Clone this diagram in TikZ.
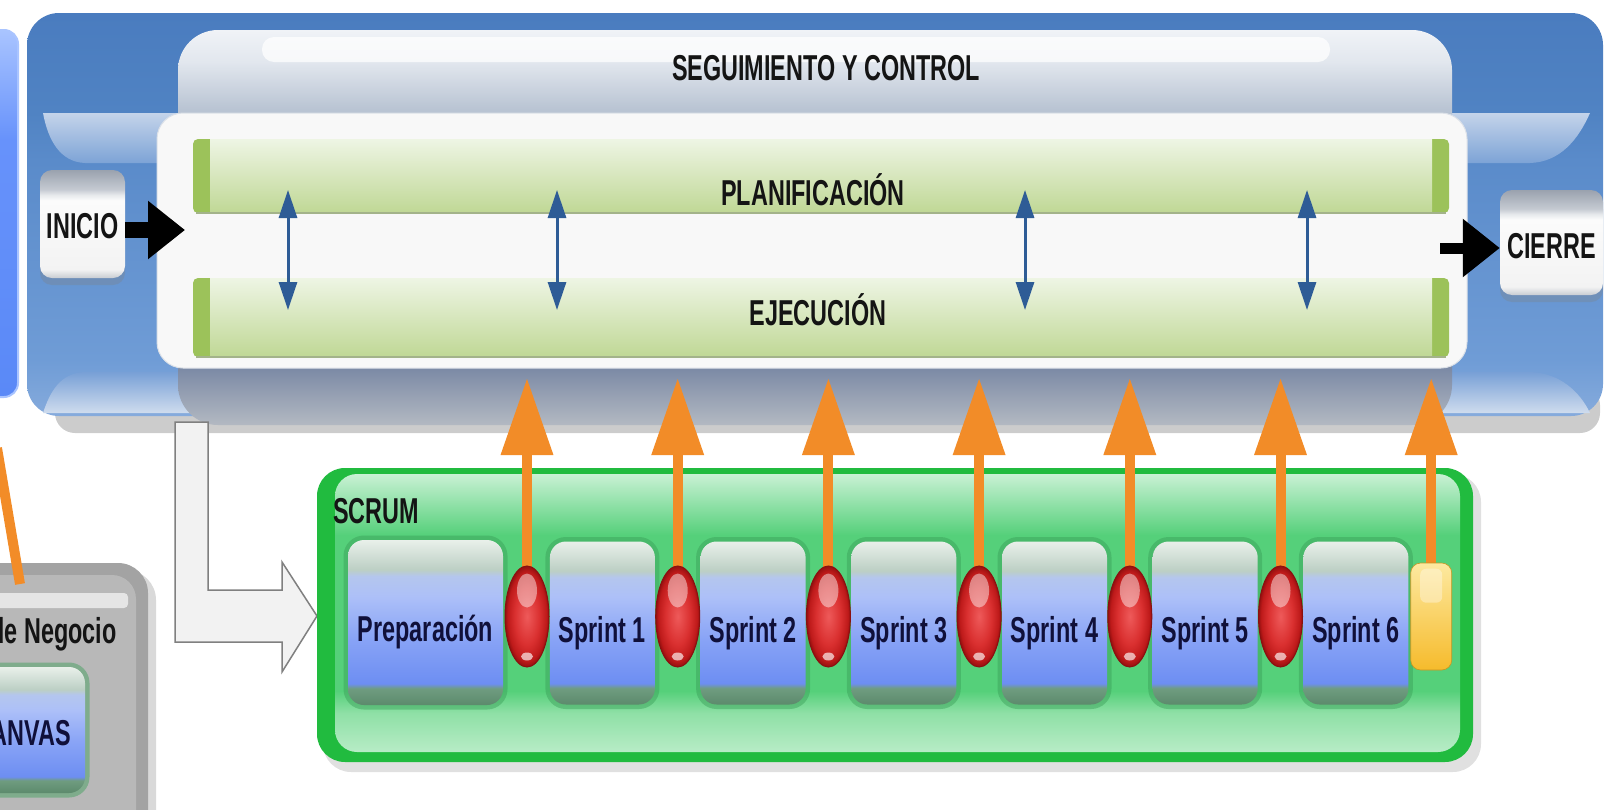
\documentclass[tikz,border=0pt]{standalone}
\usepackage{fontspec}
\newfontfamily\nar[FakeStretch=0.65]{Liberation Sans}
\usetikzlibrary{arrows.meta,shapes.geometric,shadows}

\definecolor{c0}{HTML}{4A7CBF}
\definecolor{c1}{HTML}{5083C3}
\definecolor{c2}{HTML}{5A8BCA}
\definecolor{c3}{HTML}{6F9CD6}
\definecolor{c4}{HTML}{86ABDC}
\pgfdeclareverticalshading{contshade}{100bp}{color(0bp)=(c4); color(25bp)=(c4); color(32bp)=(c3); color(56.7bp)=(c2); color(62.6bp)=(c1); color(75bp)=(c0); color(100bp)=(c0)}

\definecolor{g0}{HTML}{F0F3F7}
\definecolor{g1}{HTML}{E2E7EE}
\definecolor{g2}{HTML}{B9C4D3}
\definecolor{g3}{HTML}{7D8BA6}
\definecolor{g4}{HTML}{B3B9C2}
\pgfdeclareverticalshading{grayshade}{100bp}{color(0bp)=(g4); color(25bp)=(g4); color(32bp)=(g3); color(65bp)=(g2); color(71bp)=(g1); color(75bp)=(g0); color(100bp)=(g0)}

\definecolor{lb0}{HTML}{A9C4FF}
\definecolor{lb1}{HTML}{6792FB}
\definecolor{lb2}{HTML}{5A89F7}
\pgfdeclareverticalshading{leftblue}{100bp}{color(0bp)=(lb2); color(25bp)=(lb2); color(60bp)=(lb1); color(75bp)=(lb0); color(100bp)=(lb0)}

\definecolor{sb0}{HTML}{5C8A6C}
\definecolor{sb1}{HTML}{6F9C80}
\definecolor{sb2}{HTML}{6D8EF2}
\definecolor{sb3}{HTML}{88A3F6}
\definecolor{sb4}{HTML}{ADC0F8}
\definecolor{sb5}{HTML}{B4C6EE}
\definecolor{sb6}{HTML}{BCCFC4}
\definecolor{sb7}{HTML}{E9F0EA}
\pgfdeclareverticalshading{sprintshade}{100bp}{color(0bp)=(sb0); color(25bp)=(sb0); color(30bp)=(sb1); color(31.5bp)=(sb2); color(45bp)=(sb3); color(58bp)=(sb4); color(64bp)=(sb5); color(66bp)=(sb6); color(75bp)=(sb7); color(100bp)=(sb7)}

\definecolor{wb0}{HTML}{9AA2AE}
\definecolor{wb1}{HTML}{C5CAD2}
\definecolor{wb2}{HTML}{E6E9EC}
\definecolor{wb3}{HTML}{FBFBFB}
\definecolor{wb4}{HTML}{F3F3F3}
\definecolor{wb5}{HTML}{C8CCD2}
\pgfdeclareverticalshading{wboxshade}{100bp}{color(0bp)=(wb5); color(25bp)=(wb5); color(29bp)=(wb4); color(61bp)=(wb3); color(63.5bp)=(wb2); color(66bp)=(wb1); color(75bp)=(wb0); color(100bp)=(wb0)}

\definecolor{gi0}{HTML}{C9F1D4}
\definecolor{gi1}{HTML}{55D07A}
\definecolor{gi2}{HTML}{8FE0A6}
\definecolor{gi3}{HTML}{B7ECC6}
\pgfdeclareverticalshading{greeninner}{100bp}{color(0bp)=(gi3); color(25bp)=(gi3); color(32bp)=(gi2); color(36bp)=(gi1); color(64bp)=(gi1); color(75bp)=(gi0); color(100bp)=(gi0)}

\definecolor{rg0}{HTML}{EE5A5A}
\definecolor{rg1}{HTML}{DA3030}
\definecolor{rg2}{HTML}{BE1A1A}
\definecolor{rg3}{HTML}{951010}
\pgfdeclareradialshading{redglass}{\pgfpoint{0bp}{0bp}}{color(0bp)=(rg0); color(14bp)=(rg1); color(22bp)=(rg2); color(25bp)=(rg3); color(50bp)=(rg3)}

\definecolor{wingA}{HTML}{C4D4EA}
\definecolor{wingB}{HTML}{7DA3D6}
\definecolor{wingC}{HTML}{78A0D6}
\definecolor{wingD}{HTML}{CFDCEE}
\definecolor{panel}{HTML}{F8F8F8}
\definecolor{panelrim}{HTML}{DCE1E8}
\definecolor{barend}{HTML}{9CC25A}
\definecolor{barTop}{HTML}{EEF5E4}
\definecolor{barBot}{HTML}{C0D896}
\definecolor{barline}{HTML}{A3B38A}
\definecolor{dblue}{HTML}{2E5C96}
\definecolor{orangeA}{HTML}{F28C28}
\definecolor{navy}{HTML}{10103A}
\definecolor{gout}{HTML}{21BB3F}
\definecolor{haloC}{HTML}{3A9E58}
\definecolor{redrim}{HTML}{8A1010}
\definecolor{yelTop}{HTML}{FDE9A0}
\definecolor{yelMid}{HTML}{FBD25A}
\definecolor{yelBot}{HTML}{F6BB2C}

\begin{document}
\begin{tikzpicture}[x=1pt,y=-1pt,
  lbl/.style={font=\fontsize{36}{40}\nar\bfseries, text=black!92, inner sep=0pt},
  sbox/.style={rounded corners=16pt, shading=sprintshade, minimum width=105pt, minimum height=163pt,
     text height=38pt, text depth=0pt, inner sep=0pt, lbl, text=navy,
     preaction={draw=haloC, line width=9pt, opacity=.45}},
  wbox/.style={rounded corners=12pt, shading=wboxshade, inner sep=0pt, text depth=0pt, lbl,
     drop shadow={opacity=.3, shadow xshift=0pt, shadow yshift=-7pt}},
  oval/.style={ellipse, minimum width=44pt, minimum height=101pt, inner sep=0pt, shading=redglass, draw=redrim, line width=1pt},
  gloss/.style={fill=white, opacity=.45},
  yel/.style={rectangle, rounded corners=10pt, minimum width=41pt, minimum height=107pt, inner sep=0pt,
     top color=yelTop, middle color=yelMid, bottom color=yelBot, draw=yelBot!80!black, line width=.6pt},
  dblarrow/.style={draw=dblue, line width=3pt, {Triangle[width=18pt,length=28pt]}-{Triangle[width=18pt,length=28pt]}},
  blackarrow/.style={draw=black, -{Triangle[width=56pt,length=37pt]}},
  orng/.style={draw=orangeA, line width=10pt, -{Triangle[width=50pt,length=77pt]}},
  larrow/.style={fill=black!5, draw=black!50, line width=1.5pt, line join=miter}
]
\useasboundingbox (0,0) rectangle (1604,809);
\clip (0,0) rectangle (1604,809);
\fill[white] (0,0) rectangle (1604,809);

% ---------- upper blue container ----------
\fill[black, opacity=.2, rounded corners=20pt] (55,385) rectangle (1600,433);
\path[shading=contshade, rounded corners=32pt] (27,13) rectangle (1603,416);
\path[top color=wingA, bottom color=wingB] (43,113) -- (1590,113) .. controls (1578,140) and (1560,162) .. (1530,163) -- (85,163) .. controls (60,162) and (48,140) .. (43,113) -- cycle;
\path[top color=wingC, bottom color=wingD] (85,372) -- (1530,372) .. controls (1560,373) and (1580,392) .. (1590,413) -- (43,413) .. controls (50,392) and (60,373) .. (85,372) -- cycle;

% left partial blue box
\path[shading=leftblue, rounded corners=14pt, draw=lb0, line width=2pt] (-40,30) rectangle (18,397);

% grey box SEGUIMIENTO Y CONTROL
\path[shading=grayshade, rounded corners=40pt] (178,30) rectangle (1452,425);
\fill[white, opacity=.75, rounded corners=12pt] (262,37) rectangle (1330,62);
\node[lbl, anchor=base] (seg) at (826,80) {SEGUIMIENTO Y CONTROL};

% white panel
\filldraw[fill=panel, draw=panelrim, line width=1pt, rounded corners=26pt] (157,113) rectangle (1467,368);

% green bars
\fill[barend, rounded corners=5pt] (193,139) rectangle (1449,213);
\path[top color=barTop, bottom color=barBot] (210,139) rectangle (1432,212);
\draw[barline, line width=1.5pt] (196,213) -- (1446,213);
\fill[barend, rounded corners=5pt] (193,278) rectangle (1449,357);
\path[top color=barTop, bottom color=barBot] (210,278) rectangle (1432,356);
\draw[barline, line width=1.5pt] (196,357) -- (1446,357);
\node[lbl, anchor=base] (plan) at (813,205) {PLANIFICACIÓN};
\node[lbl, anchor=base] (ejec) at (818,325) {EJECUCIÓN};

% double arrows between planning and execution
\foreach \i/\x in {1/288,2/557,3/1025,4/1307}{
  \coordinate (dt\i) at (\x,190);
  \coordinate (db\i) at (\x,310);
  \draw[dblarrow] (dt\i) -- (db\i);
}

% INICIO / CIERRE
\node[wbox, minimum width=85pt, minimum height=108pt, text height=28pt] (inicio) at (82.5,224) {INICIO};
\coordinate (inT) at (185,230);
\draw[blackarrow, line width=16pt] (inicio.east |- inT) -- (inT);
\node[wbox, minimum width=103pt, minimum height=105pt, text height=31pt] (cierre) at (1551.5,242.5) {CIERRE};
\coordinate (ciS) at (1440,248);
\draw[blackarrow, line width=11pt] (ciS) -- (cierre.west |- ciS);

% ---------- lower left: business model ----------
\fill[black, opacity=.15, rounded corners=30pt] (-40,570) rectangle (156,860);
\fill[black!36, rounded corners=30pt] (-40,563) rectangle (148,850);
\fill[black!28, rounded corners=24pt] (-40,575) rectangle (136,840);
\fill[black!10, rounded corners=4pt] (-40,593) rectangle (128,608);
\node[lbl, anchor=base east] (neg) at (117,643) {Modelo de Negocio};
\node[sbox, minimum width=125pt, minimum height=126pt, text height=30pt] (canvas) at (22.5,730) {CANVAS};
\coordinate (negT) at (-3,448);
\draw[draw=orangeA, line width=10pt] (20,584) -- (negT);

% L shaped arrow
\draw[larrow] (175,422) -- (208,422) -- (208,590) -- (282,590) -- (282,562) -- (317,616) -- (282,672) -- (282,642) -- (175,642) -- cycle;

% ---------- SCRUM box ----------
\fill[black, opacity=.12, rounded corners=28pt] (323,474) rectangle (1481,772);
\fill[gout, rounded corners=28pt] (317,468) rectangle (1473,762);
\path[shading=greeninner, rounded corners=22pt] (335,474) rectangle (1460,752);
\node[lbl, anchor=base west] (scrum) at (333,523) {SCRUM};

% sprint boxes
\node[sbox, minimum width=155pt, minimum height=165pt] (prep) at (425.5,622.5) {Preparación};
\node[sbox] (s1) at (602.4,623) {Sprint 1};
\node[sbox] (s2) at (753.1,623) {Sprint 2};
\node[sbox] (s3) at (903.8,623) {Sprint 3};
\node[sbox] (s4) at (1054.5,623) {Sprint 4};
\node[sbox] (s5) at (1205.2,623) {Sprint 5};
\node[sbox] (s6) at (1355.9,623) {Sprint 6};

% orange arrows (drawn before the markers so that these cover the shaft ends)
\foreach \n/\x in {r1/527,r2/677.7,r3/828.4,r4/979.1,r5/1129.8,r6/1280.5,yl/1431.2}{
  \coordinate (t\n) at (\x,378);
  \coordinate (b\n) at (\x,590);
  \draw[orng] (b\n) -- (t\n);
}

% markers between sprints
\node[oval] (r1) at (527,616.5) {};
\node[oval] (r2) at (677.7,616.5) {};
\node[oval] (r3) at (828.4,616.5) {};
\node[oval] (r4) at (979.1,616.5) {};
\node[oval] (r5) at (1129.8,616.5) {};
\node[oval] (r6) at (1280.5,616.5) {};
\foreach \n in {r1,r2,r3,r4,r5,r6}{
  \fill[gloss] ([yshift=26pt]\n.center) ellipse (10pt and 17pt);
  \fill[white, opacity=.65] ([yshift=-40pt]\n.center) ellipse (6pt and 4pt);
}
\node[yel] (yl) at (1431.2,616.5) {};
\fill[white, opacity=.35, rounded corners=6pt] ([xshift=-11pt,yshift=-6pt]yl.north) rectangle ([xshift=11pt,yshift=-40pt]yl.north);
\end{tikzpicture}
\end{document}
